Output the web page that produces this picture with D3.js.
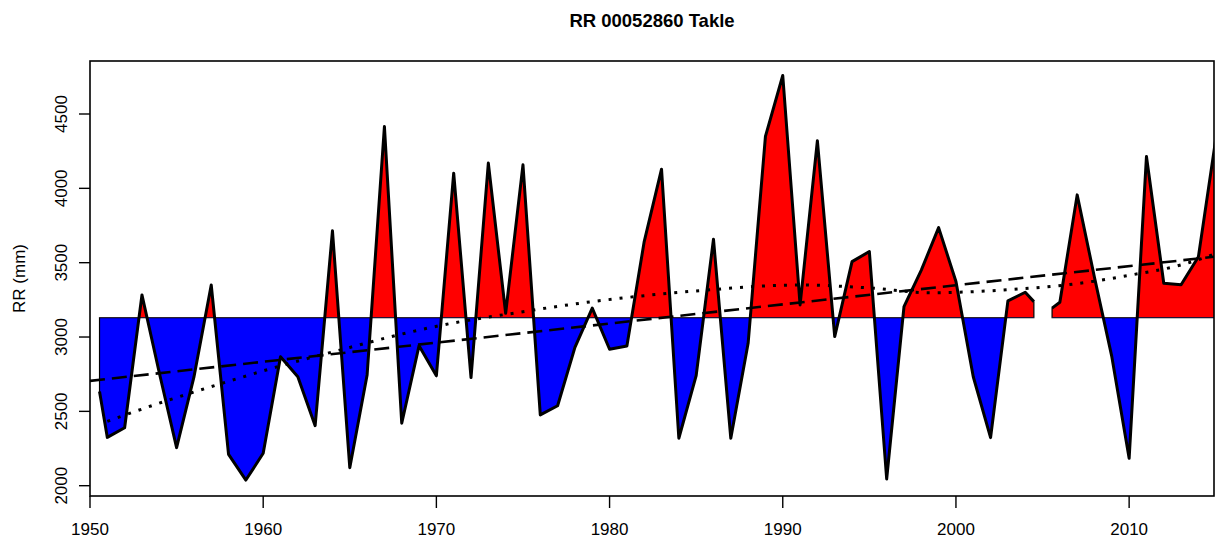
<!DOCTYPE html>
<html><head><meta charset="utf-8">
<script src="https://cdn.jsdelivr.net/npm/d3@7"></script>
<style>
body{margin:0;background:#fff}
svg{display:block;font-family:"Liberation Sans",Arial,Helvetica,sans-serif}
</style>
</head><body>
<svg id="c" width="1215" height="538"></svg>
<script>
// ---- data ----
const title = "RR 00052860 Takle";
const yLabel = "RR (mm)";
const baselineValue = 3130;

// first continuous run of the series (ends half a year before the missing 2005 value)
const yearsA = [1950.55,1951,1952,1953,1954,1955,1956,1957,1958,1959,1960,1961,1962,1963,1964,1965,1966,1967,1968,1969,1970,1971,1972,1973,1974,1975,1976,1977,1978,1979,1980,1981,1982,1983,1984,1985,1986,1987,1988,1989,1990,1991,1992,1993,1994,1995,1996,1997,1998,1999,2000,2001,2002,2003,2004,2004.5];
const valuesA = [2633,2325,2390,3283,2760,2256,2730,3350,2211,2038,2218,2868,2733,2404,3714,2121,2745,4416,2420,2942,2740,4102,2727,4170,3160,4158,2476,2538,2930,3194,2918,2940,3642,4129,2319,2740,3658,2319,2958,4349,4759,3216,4320,3003,3507,3575,2045,3205,3450,3736,3373,2733,2323,3243,3301,3238];
// second run
const yearsB = [2005.55,2006,2007,2008,2009,2010,2011,2012,2013,2014,2015];
const valuesB = [3194,3234,3956,3400,2868,2184,4214,3362,3351,3540,4330];

// linear trend (dashed)
const linYears = [1950, 2015];
const linValues = [2705, 3541];
// smoothed trend (dotted)
const smoothYears = [1951,1954,1957,1961,1965,1968,1971,1974,1979,1985,1991,1995,1998.5,2003,2006.5,2010,2013,2015];
const smoothValues = [2433,2555,2666,2806,2930,3020,3095,3152,3238,3310,3350,3330,3298,3318,3352,3415,3485,3560];

const xTicks = [1950,1960,1970,1980,1990,2000,2010];
const yTicks = [2000,2500,3000,3500,4000,4500];

// ---- layout ----
const svg = d3.select("#c");
const L = 90, R = 1214, T = 61, B = 496;
const x = d3.scaleLinear().domain([1950, 2014.9]).range([L, R]);
const y = d3.scaleLinear().domain([2000, 4500]).range([485.7, 114]);
const yb = y(baselineValue);

const defs = svg.append("defs");
defs.append("clipPath").attr("id","plot").append("rect")
  .attr("x",L).attr("y",T).attr("width",R-L).attr("height",B-T);
defs.append("clipPath").attr("id","above").append("rect")
  .attr("x",L).attr("y",T).attr("width",R-L).attr("height",yb-T);
defs.append("clipPath").attr("id","below").append("rect")
  .attr("x",L).attr("y",yb).attr("width",R-L).attr("height",B-yb);

const segs = [
  yearsA.map((t,i)=>({t, v: valuesA[i]})),
  yearsB.map((t,i)=>({t, v: valuesB[i]}))
];

const area = d3.area().x(d=>x(d.t)).y0(yb).y1(d=>y(d.v));
const line = d3.line().x(d=>x(d.t)).y(d=>y(d.v));

const g = svg.append("g").attr("clip-path","url(#plot)");
const gA = g.append("g").attr("clip-path","url(#above)");
const gB = g.append("g").attr("clip-path","url(#below)");
segs.forEach(s=>{
  gA.append("path").attr("d",area(s)).attr("fill","#ff0000").attr("stroke","#000").attr("stroke-width",1.2);
  gB.append("path").attr("d",area(s)).attr("fill","#0000ff").attr("stroke","#000").attr("stroke-width",1.2);
});
segs.forEach(s=>{
  g.append("path").attr("d",line(s)).attr("fill","none").attr("stroke","#000")
    .attr("stroke-width",3).attr("stroke-linejoin","round");
});

// trend lines
const lin = linYears.map((t,i)=>({t, v: linValues[i]}));
g.append("path").attr("d",line(lin)).attr("fill","none").attr("stroke","#000")
  .attr("stroke-width",2.6).attr("stroke-dasharray","15 7");
const sm = smoothYears.map((t,i)=>({t, v: smoothValues[i]}));
g.append("path").attr("d",d3.line().x(d=>x(d.t)).y(d=>y(d.v)).curve(d3.curveMonotoneX)(sm))
  .attr("fill","none").attr("stroke","#000").attr("stroke-width",3).attr("stroke-dasharray","3 8");

// box
svg.append("rect").attr("x",L).attr("y",T).attr("width",R-L).attr("height",B-T)
  .attr("fill","none").attr("stroke","#000").attr("stroke-width",1.6);

// x axis
const xa = svg.append("g");
xTicks.forEach(t=>{
  xa.append("line").attr("x1",x(t)).attr("x2",x(t)).attr("y1",B).attr("y2",B+12)
    .attr("stroke","#000").attr("stroke-width",1.4);
  xa.append("text").attr("x",x(t)).attr("y",535).attr("text-anchor","middle")
    .attr("font-size",17).text(t);
});
// y axis
const ya = svg.append("g");
yTicks.forEach(v=>{
  ya.append("line").attr("x1",L-11).attr("x2",L).attr("y1",y(v)).attr("y2",y(v))
    .attr("stroke","#000").attr("stroke-width",1.4);
  ya.append("text").attr("transform",`translate(67,${y(v)}) rotate(-90)`)
    .attr("text-anchor","middle").attr("font-size",17).text(v);
});

// labels
svg.append("text").attr("x",(L+R)/2).attr("y",27).attr("text-anchor","middle")
  .attr("font-size",18.5).attr("font-weight","bold").text(title);
svg.append("text").attr("transform",`translate(25,${(T+B)/2}) rotate(-90)`)
  .attr("text-anchor","middle").attr("font-size",17).text(yLabel);
</script>
</body></html>
